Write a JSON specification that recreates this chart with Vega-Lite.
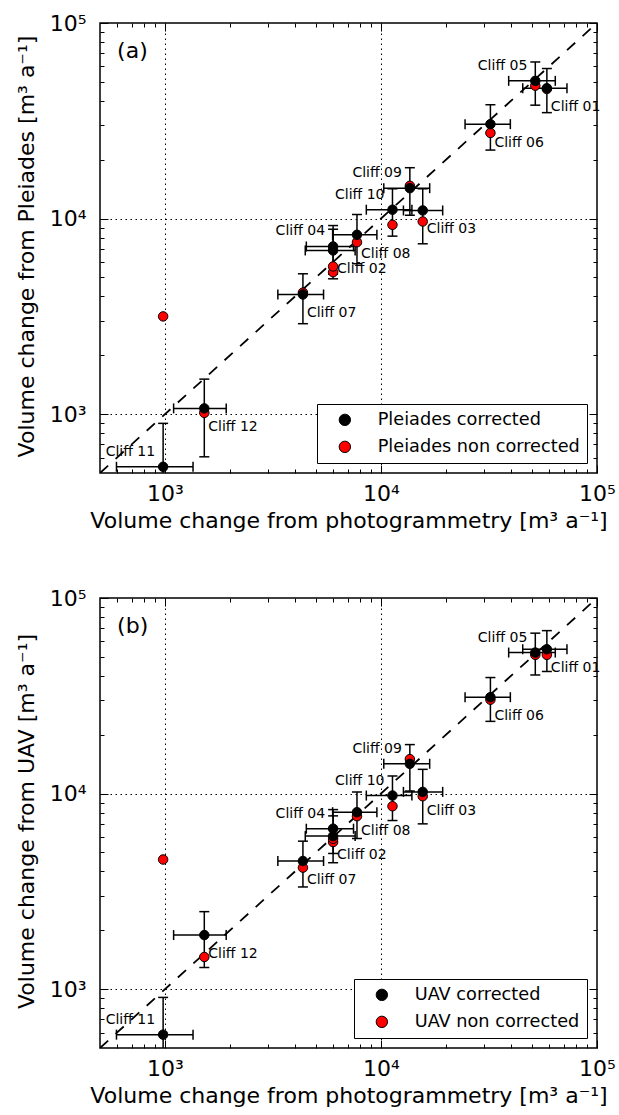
{
  "$schema": "https://vega.github.io/schema/vega-lite/v6.json",
  "padding": {"left": 14, "top": 11, "right": 0, "bottom": 0},
  "config": {
    "font": "DejaVu Sans",
    "view": {"stroke": "black", "strokeWidth": 1.5},
    "text": {"color": "black"}
  },
  "datasets": {
    "pa": [
      {"cliff": "Cliff 01", "x": 58600, "xlo": 45300, "xhi": 72600, "y": 46400, "ylo": 34800, "yhi": 58500, "ync": 46000},
      {"cliff": "Cliff 02", "x": 6000, "xlo": 4460, "xhi": 7590, "y": 6870, "ylo": 4920, "yhi": 8820, "ync": 5320},
      {"cliff": "Cliff 03", "x": 15600, "xlo": 12700, "xhi": 19300, "y": 11000, "ylo": 7430, "yhi": 14200, "ync": 9660},
      {"cliff": "Cliff 04", "x": 6000, "xlo": 4510, "xhi": 7460, "y": 7200, "ylo": 5190, "yhi": 9210, "ync": 5690},
      {"cliff": "Cliff 05", "x": 51800, "xlo": 39000, "xhi": 64100, "y": 50600, "ylo": 38000, "yhi": 63200, "ync": 47800},
      {"cliff": "Cliff 06", "x": 32100, "xlo": 24500, "xhi": 39700, "y": 30400, "ylo": 22400, "yhi": 38200, "ync": 27400},
      {"cliff": "Cliff 07", "x": 4350, "xlo": 3330, "xhi": 5420, "y": 4090, "ylo": 2900, "yhi": 5220, "ync": 4180},
      {"cliff": "Cliff 08", "x": 7740, "xlo": 5970, "xhi": 9570, "y": 8260, "ylo": 5870, "yhi": 10500, "ync": 7570},
      {"cliff": "Cliff 09", "x": 13600, "xlo": 10300, "xhi": 16800, "y": 14300, "ylo": 10400, "yhi": 18200, "ync": 14700},
      {"cliff": "Cliff 10", "x": 11300, "xlo": 8550, "xhi": 13900, "y": 11100, "ylo": 8130, "yhi": 14200, "ync": 9290},
      {"cliff": "Cliff 11", "x": 980, "xlo": 596, "xhi": 1348, "y": 538, "ylo": 179, "yhi": 897, "ync": 3160},
      {"cliff": "Cliff 12", "x": 1520, "xlo": 1096, "xhi": 1920, "y": 1070, "ylo": 605, "yhi": 1510, "ync": 1015}
    ],
    "pb": [
      {"cliff": "Cliff 01", "x": 58600, "xlo": 45300, "xhi": 72600, "y": 54700, "ylo": 42100, "yhi": 68100, "ync": 51200},
      {"cliff": "Cliff 02", "x": 6000, "xlo": 4460, "xhi": 7590, "y": 6060, "ylo": 4430, "yhi": 7690, "ync": 5650},
      {"cliff": "Cliff 03", "x": 15600, "xlo": 12700, "xhi": 19300, "y": 10200, "ylo": 7000, "yhi": 13300, "ync": 9690},
      {"cliff": "Cliff 04", "x": 6000, "xlo": 4510, "xhi": 7460, "y": 6610, "ylo": 4940, "yhi": 8280, "ync": 5870},
      {"cliff": "Cliff 05", "x": 51800, "xlo": 39000, "xhi": 64100, "y": 52600, "ylo": 40400, "yhi": 66100, "ync": 51200},
      {"cliff": "Cliff 06", "x": 32100, "xlo": 24500, "xhi": 39700, "y": 31100, "ylo": 23400, "yhi": 39200, "ync": 30200},
      {"cliff": "Cliff 07", "x": 4350, "xlo": 3330, "xhi": 5420, "y": 4520, "ylo": 3330, "yhi": 5710, "ync": 4180},
      {"cliff": "Cliff 08", "x": 7740, "xlo": 5970, "xhi": 9570, "y": 8030, "ylo": 5890, "yhi": 10200, "ync": 7660},
      {"cliff": "Cliff 09", "x": 13600, "xlo": 10300, "xhi": 16800, "y": 14200, "ylo": 10300, "yhi": 17800, "ync": 15000},
      {"cliff": "Cliff 10", "x": 11300, "xlo": 8550, "xhi": 13900, "y": 9770, "ylo": 7280, "yhi": 12300, "ync": 8610},
      {"cliff": "Cliff 11", "x": 980, "xlo": 596, "xhi": 1348, "y": 585, "ylo": 263, "yhi": 907, "ync": 4600},
      {"cliff": "Cliff 12", "x": 1520, "xlo": 1096, "xhi": 1920, "y": 1890, "ylo": 1290, "yhi": 2490, "ync": 1460}
    ],
    "diag": [{"v": 500}, {"v": 100000}],
    "anna": [{"x": 600, "y": 72000, "t": "(a)"}],
    "annb": [{"x": 600, "y": 72000, "t": "(b)"}]
  },
  "vconcat": [
    {
      "width": 497,
      "height": 450,
      "resolve": {"axis": {"x": "independent", "y": "independent"}},
      "layer": [
        {
          "data": {"name": "diag"},
          "mark": {"type": "line", "color": "black", "strokeDash": [11, 10], "strokeWidth": 1.8, "clip": true},
          "encoding": {
            "x": {"field": "v", "type": "quantitative", "scale": {"type": "log", "domain": [500, 100000], "nice": false},
              "axis": {"orient": "bottom", "values": [600,700,800,900,1000,2000,3000,4000,5000,6000,7000,8000,9000,10000,20000,30000,40000,50000,60000,70000,80000,90000,100000],
                "labelExpr": "datum.value == 1000 ? '10³' : datum.value == 10000 ? '10⁴' : datum.value == 100000 ? '10⁵' : ''",
                "labelFontSize": 22, "labelPadding": 18, "labelOverlap": false, "labelFlush": false, "labelBound": false, "labelColor": "black",
                "tickSize": {"condition": {"test": "datum.value == 1000 || datum.value == 10000 || datum.value == 100000", "value": -8}, "value": -4},
                "tickColor": "black", "tickWidth": 1, "domain": false,
                "grid": true, "gridColor": "black", "gridDash": [1.5, 3.5], "gridWidth": 1,
                "gridOpacity": {"condition": {"test": "datum.value == 1000 || datum.value == 10000", "value": 1}, "value": 0},
                "title": "Volume change from photogrammetry [m³  a⁻¹]", "titleFontSize": 22, "titleFontWeight": "normal", "titleColor": "black",
                "titleX": 248.5, "titleY": 54, "titleBaseline": "alphabetic", "titleAlign": "center"}},
            "y": {"field": "v", "type": "quantitative", "scale": {"type": "log", "domain": [500, 100000], "nice": false},
              "axis": {"orient": "left", "values": [600,700,800,900,1000,2000,3000,4000,5000,6000,7000,8000,9000,10000,20000,30000,40000,50000,60000,70000,80000,90000,100000],
                "labelExpr": "datum.value == 1000 ? '10³' : datum.value == 10000 ? '10⁴' : datum.value == 100000 ? '10⁵' : ''",
                "labelFontSize": 22, "labelPadding": 22, "labelOverlap": false, "labelFlush": false, "labelBound": false, "labelColor": "black",
                "tickSize": {"condition": {"test": "datum.value == 1000 || datum.value == 10000 || datum.value == 100000", "value": -8}, "value": -4},
                "tickColor": "black", "tickWidth": 1, "domain": false,
                "grid": true, "gridColor": "black", "gridDash": [1.5, 3.5], "gridWidth": 1,
                "gridOpacity": {"condition": {"test": "datum.value == 1000 || datum.value == 10000", "value": 1}, "value": 0},
                "title": "Volume change from Pleiades [m³  a⁻¹]", "titleFontSize": 22, "titleFontWeight": "normal", "titleColor": "black",
                "titleX": -66.7, "titleY": 223, "titleAngle": 270, "titleBaseline": "alphabetic", "titleAlign": "center"}}
          }
        },
        {
          "data": {"name": "pa"},
          "mark": {"type": "rule", "color": "black", "strokeWidth": 1.5, "clip": true},
          "encoding": {
            "x": {"field": "xlo", "type": "quantitative", "scale": {"type": "log", "domain": [500, 100000], "nice": false},
              "axis": {"orient": "top", "values": [600,700,800,900,1000,2000,3000,4000,5000,6000,7000,8000,9000,10000,20000,30000,40000,50000,60000,70000,80000,90000,100000],
                "labels": false, "grid": false, "domain": false, "title": null, "tickColor": "black", "tickWidth": 1,
                "tickSize": {"condition": {"test": "datum.value == 1000 || datum.value == 10000 || datum.value == 100000", "value": -8}, "value": -4}}},
            "x2": {"field": "xhi"},
            "y": {"field": "y", "type": "quantitative", "scale": {"type": "log", "domain": [500, 100000], "nice": false}, "axis": null}
          }
        },
        {
          "data": {"name": "pa"},
          "mark": {"type": "rule", "color": "black", "strokeWidth": 1.5, "clip": true},
          "encoding": {
            "x": {"field": "x", "type": "quantitative", "scale": {"type": "log", "domain": [500, 100000], "nice": false}, "axis": null},
            "y": {"field": "ylo", "type": "quantitative", "scale": {"type": "log", "domain": [500, 100000], "nice": false},
              "axis": {"orient": "right", "values": [600,700,800,900,1000,2000,3000,4000,5000,6000,7000,8000,9000,10000,20000,30000,40000,50000,60000,70000,80000,90000,100000],
                "labels": false, "grid": false, "domain": false, "title": null, "tickColor": "black", "tickWidth": 1,
                "tickSize": {"condition": {"test": "datum.value == 1000 || datum.value == 10000 || datum.value == 100000", "value": -8}, "value": -4}}},
            "y2": {"field": "yhi"}
          }
        },
        {
          "data": {"name": "pa"},
          "transform": [{"fold": ["xlo", "xhi"], "as": ["side", "xe"]}],
          "mark": {"type": "tick", "orient": "vertical", "color": "black", "size": 10, "thickness": 1.5, "opacity": 1, "clip": true},
          "encoding": {
            "x": {"field": "xe", "type": "quantitative", "scale": {"type": "log", "domain": [500, 100000], "nice": false}, "axis": null},
            "y": {"field": "y", "type": "quantitative", "scale": {"type": "log", "domain": [500, 100000], "nice": false}, "axis": null}
          }
        },
        {
          "data": {"name": "pa"},
          "transform": [{"fold": ["ylo", "yhi"], "as": ["side", "ye"]}],
          "mark": {"type": "tick", "orient": "horizontal", "color": "black", "size": 10, "thickness": 1.5, "opacity": 1, "clip": true},
          "encoding": {
            "x": {"field": "x", "type": "quantitative", "scale": {"type": "log", "domain": [500, 100000], "nice": false}, "axis": null},
            "y": {"field": "ye", "type": "quantitative", "scale": {"type": "log", "domain": [500, 100000], "nice": false}, "axis": null}
          }
        },
        {
          "data": {"name": "pa"},
          "mark": {"type": "point", "shape": "circle", "filled": true, "size": 90, "opacity": 1, "stroke": "black", "strokeWidth": 1},
          "encoding": {
            "x": {"field": "x", "type": "quantitative", "scale": {"type": "log", "domain": [500, 100000], "nice": false}, "axis": null},
            "y": {"field": "ync", "type": "quantitative", "scale": {"type": "log", "domain": [500, 100000], "nice": false}, "axis": null},
            "color": {"datum": "Pleiades non corrected", "type": "nominal",
              "scale": {"domain": ["Pleiades corrected", "Pleiades non corrected"], "range": ["black", "red"]},
              "legend": {"title": null, "orient": "bottom-right", "offset": 10, "fillColor": "white", "strokeColor": "black", "padding": 7,
                "symbolType": "circle", "symbolSize": 130, "symbolStrokeColor": "black", "symbolStrokeWidth": 1, "symbolOpacity": 1, "symbolOffset": 12,
                "labelOffset": 24, "labelFontSize": 17.7, "labelColor": "black", "labelLimit": 400, "rowPadding": 8}}
          }
        },
        {
          "data": {"name": "pa"},
          "mark": {"type": "point", "shape": "circle", "filled": true, "size": 90, "opacity": 1, "stroke": "black", "strokeWidth": 1},
          "encoding": {
            "x": {"field": "x", "type": "quantitative", "scale": {"type": "log", "domain": [500, 100000], "nice": false}, "axis": null},
            "y": {"field": "y", "type": "quantitative", "scale": {"type": "log", "domain": [500, 100000], "nice": false}, "axis": null},
            "color": {"datum": "Pleiades corrected", "type": "nominal",
              "scale": {"domain": ["Pleiades corrected", "Pleiades non corrected"], "range": ["black", "red"]},
              "legend": {"title": null, "orient": "bottom-right", "offset": 10, "fillColor": "white", "strokeColor": "black", "padding": 7,
                "symbolType": "circle", "symbolSize": 130, "symbolStrokeColor": "black", "symbolStrokeWidth": 1, "symbolOpacity": 1, "symbolOffset": 12,
                "labelOffset": 24, "labelFontSize": 17.7, "labelColor": "black", "labelLimit": 400, "rowPadding": 8}}
          }
        },
        {
          "data": {"name": "pa"},
          "transform": [{"filter": {"field": "cliff", "oneOf": ["Cliff 04", "Cliff 05", "Cliff 09", "Cliff 10", "Cliff 11"]}}],
          "mark": {"type": "text", "align": "right", "baseline": "middle", "dx": -8, "dy": -15, "fontSize": 14, "color": "black"},
          "encoding": {
            "x": {"field": "x", "type": "quantitative", "scale": {"type": "log", "domain": [500, 100000], "nice": false}, "axis": null},
            "y": {"field": "y", "type": "quantitative", "scale": {"type": "log", "domain": [500, 100000], "nice": false}, "axis": null},
            "text": {"field": "cliff"}
          }
        },
        {
          "data": {"name": "pa"},
          "transform": [{"filter": {"not": {"field": "cliff", "oneOf": ["Cliff 04", "Cliff 05", "Cliff 09", "Cliff 10", "Cliff 11"]}}}],
          "mark": {"type": "text", "align": "left", "baseline": "middle", "dx": 4, "dy": 19, "fontSize": 14, "color": "black"},
          "encoding": {
            "x": {"field": "x", "type": "quantitative", "scale": {"type": "log", "domain": [500, 100000], "nice": false}, "axis": null},
            "y": {"field": "y", "type": "quantitative", "scale": {"type": "log", "domain": [500, 100000], "nice": false}, "axis": null},
            "text": {"field": "cliff"}
          }
        },
        {
          "data": {"name": "anna"},
          "mark": {"type": "text", "align": "left", "baseline": "middle", "fontSize": 22, "color": "black"},
          "encoding": {
            "x": {"field": "x", "type": "quantitative", "scale": {"type": "log", "domain": [500, 100000], "nice": false}, "axis": null},
            "y": {"field": "y", "type": "quantitative", "scale": {"type": "log", "domain": [500, 100000], "nice": false}, "axis": null},
            "text": {"field": "t"}
          }
        }
      ]
    },
    {
      "width": 497,
      "height": 450,
      "resolve": {"axis": {"x": "independent", "y": "independent"}},
      "layer": [
        {
          "data": {"name": "diag"},
          "mark": {"type": "line", "color": "black", "strokeDash": [11, 10], "strokeWidth": 1.8, "clip": true},
          "encoding": {
            "x": {"field": "v", "type": "quantitative", "scale": {"type": "log", "domain": [500, 100000], "nice": false},
              "axis": {"orient": "bottom", "values": [600,700,800,900,1000,2000,3000,4000,5000,6000,7000,8000,9000,10000,20000,30000,40000,50000,60000,70000,80000,90000,100000],
                "labelExpr": "datum.value == 1000 ? '10³' : datum.value == 10000 ? '10⁴' : datum.value == 100000 ? '10⁵' : ''",
                "labelFontSize": 22, "labelPadding": 18, "labelOverlap": false, "labelFlush": false, "labelBound": false, "labelColor": "black",
                "tickSize": {"condition": {"test": "datum.value == 1000 || datum.value == 10000 || datum.value == 100000", "value": -8}, "value": -4},
                "tickColor": "black", "tickWidth": 1, "domain": false,
                "grid": true, "gridColor": "black", "gridDash": [1.5, 3.5], "gridWidth": 1,
                "gridOpacity": {"condition": {"test": "datum.value == 1000 || datum.value == 10000", "value": 1}, "value": 0},
                "title": "Volume change from photogrammetry [m³  a⁻¹]", "titleFontSize": 22, "titleFontWeight": "normal", "titleColor": "black",
                "titleX": 248.5, "titleY": 54, "titleBaseline": "alphabetic", "titleAlign": "center"}},
            "y": {"field": "v", "type": "quantitative", "scale": {"type": "log", "domain": [500, 100000], "nice": false},
              "axis": {"orient": "left", "values": [600,700,800,900,1000,2000,3000,4000,5000,6000,7000,8000,9000,10000,20000,30000,40000,50000,60000,70000,80000,90000,100000],
                "labelExpr": "datum.value == 1000 ? '10³' : datum.value == 10000 ? '10⁴' : datum.value == 100000 ? '10⁵' : ''",
                "labelFontSize": 22, "labelPadding": 22, "labelOverlap": false, "labelFlush": false, "labelBound": false, "labelColor": "black",
                "tickSize": {"condition": {"test": "datum.value == 1000 || datum.value == 10000 || datum.value == 100000", "value": -8}, "value": -4},
                "tickColor": "black", "tickWidth": 1, "domain": false,
                "grid": true, "gridColor": "black", "gridDash": [1.5, 3.5], "gridWidth": 1,
                "gridOpacity": {"condition": {"test": "datum.value == 1000 || datum.value == 10000", "value": 1}, "value": 0},
                "title": "Volume change from UAV [m³  a⁻¹]", "titleFontSize": 22, "titleFontWeight": "normal", "titleColor": "black",
                "titleX": -66.7, "titleY": 223, "titleAngle": 270, "titleBaseline": "alphabetic", "titleAlign": "center"}}
          }
        },
        {
          "data": {"name": "pb"},
          "mark": {"type": "rule", "color": "black", "strokeWidth": 1.5, "clip": true},
          "encoding": {
            "x": {"field": "xlo", "type": "quantitative", "scale": {"type": "log", "domain": [500, 100000], "nice": false},
              "axis": {"orient": "top", "values": [600,700,800,900,1000,2000,3000,4000,5000,6000,7000,8000,9000,10000,20000,30000,40000,50000,60000,70000,80000,90000,100000],
                "labels": false, "grid": false, "domain": false, "title": null, "tickColor": "black", "tickWidth": 1,
                "tickSize": {"condition": {"test": "datum.value == 1000 || datum.value == 10000 || datum.value == 100000", "value": -8}, "value": -4}}},
            "x2": {"field": "xhi"},
            "y": {"field": "y", "type": "quantitative", "scale": {"type": "log", "domain": [500, 100000], "nice": false}, "axis": null}
          }
        },
        {
          "data": {"name": "pb"},
          "mark": {"type": "rule", "color": "black", "strokeWidth": 1.5, "clip": true},
          "encoding": {
            "x": {"field": "x", "type": "quantitative", "scale": {"type": "log", "domain": [500, 100000], "nice": false}, "axis": null},
            "y": {"field": "ylo", "type": "quantitative", "scale": {"type": "log", "domain": [500, 100000], "nice": false},
              "axis": {"orient": "right", "values": [600,700,800,900,1000,2000,3000,4000,5000,6000,7000,8000,9000,10000,20000,30000,40000,50000,60000,70000,80000,90000,100000],
                "labels": false, "grid": false, "domain": false, "title": null, "tickColor": "black", "tickWidth": 1,
                "tickSize": {"condition": {"test": "datum.value == 1000 || datum.value == 10000 || datum.value == 100000", "value": -8}, "value": -4}}},
            "y2": {"field": "yhi"}
          }
        },
        {
          "data": {"name": "pb"},
          "transform": [{"fold": ["xlo", "xhi"], "as": ["side", "xe"]}],
          "mark": {"type": "tick", "orient": "vertical", "color": "black", "size": 10, "thickness": 1.5, "opacity": 1, "clip": true},
          "encoding": {
            "x": {"field": "xe", "type": "quantitative", "scale": {"type": "log", "domain": [500, 100000], "nice": false}, "axis": null},
            "y": {"field": "y", "type": "quantitative", "scale": {"type": "log", "domain": [500, 100000], "nice": false}, "axis": null}
          }
        },
        {
          "data": {"name": "pb"},
          "transform": [{"fold": ["ylo", "yhi"], "as": ["side", "ye"]}],
          "mark": {"type": "tick", "orient": "horizontal", "color": "black", "size": 10, "thickness": 1.5, "opacity": 1, "clip": true},
          "encoding": {
            "x": {"field": "x", "type": "quantitative", "scale": {"type": "log", "domain": [500, 100000], "nice": false}, "axis": null},
            "y": {"field": "ye", "type": "quantitative", "scale": {"type": "log", "domain": [500, 100000], "nice": false}, "axis": null}
          }
        },
        {
          "data": {"name": "pb"},
          "mark": {"type": "point", "shape": "circle", "filled": true, "size": 90, "opacity": 1, "stroke": "black", "strokeWidth": 1},
          "encoding": {
            "x": {"field": "x", "type": "quantitative", "scale": {"type": "log", "domain": [500, 100000], "nice": false}, "axis": null},
            "y": {"field": "ync", "type": "quantitative", "scale": {"type": "log", "domain": [500, 100000], "nice": false}, "axis": null},
            "color": {"datum": "UAV non corrected", "type": "nominal",
              "scale": {"domain": ["UAV corrected", "UAV non corrected"], "range": ["black", "red"]},
              "legend": {"title": null, "orient": "bottom-right", "offset": 10, "fillColor": "white", "strokeColor": "black", "padding": 7,
                "symbolType": "circle", "symbolSize": 130, "symbolStrokeColor": "black", "symbolStrokeWidth": 1, "symbolOpacity": 1, "symbolOffset": 12,
                "labelOffset": 24, "labelFontSize": 17.7, "labelColor": "black", "labelLimit": 400, "rowPadding": 8}}
          }
        },
        {
          "data": {"name": "pb"},
          "mark": {"type": "point", "shape": "circle", "filled": true, "size": 90, "opacity": 1, "stroke": "black", "strokeWidth": 1},
          "encoding": {
            "x": {"field": "x", "type": "quantitative", "scale": {"type": "log", "domain": [500, 100000], "nice": false}, "axis": null},
            "y": {"field": "y", "type": "quantitative", "scale": {"type": "log", "domain": [500, 100000], "nice": false}, "axis": null},
            "color": {"datum": "UAV corrected", "type": "nominal",
              "scale": {"domain": ["UAV corrected", "UAV non corrected"], "range": ["black", "red"]},
              "legend": {"title": null, "orient": "bottom-right", "offset": 10, "fillColor": "white", "strokeColor": "black", "padding": 7,
                "symbolType": "circle", "symbolSize": 130, "symbolStrokeColor": "black", "symbolStrokeWidth": 1, "symbolOpacity": 1, "symbolOffset": 12,
                "labelOffset": 24, "labelFontSize": 17.7, "labelColor": "black", "labelLimit": 400, "rowPadding": 8}}
          }
        },
        {
          "data": {"name": "pb"},
          "transform": [{"filter": {"field": "cliff", "oneOf": ["Cliff 04", "Cliff 05", "Cliff 09", "Cliff 10", "Cliff 11"]}}],
          "mark": {"type": "text", "align": "right", "baseline": "middle", "dx": -8, "dy": -15, "fontSize": 14, "color": "black"},
          "encoding": {
            "x": {"field": "x", "type": "quantitative", "scale": {"type": "log", "domain": [500, 100000], "nice": false}, "axis": null},
            "y": {"field": "y", "type": "quantitative", "scale": {"type": "log", "domain": [500, 100000], "nice": false}, "axis": null},
            "text": {"field": "cliff"}
          }
        },
        {
          "data": {"name": "pb"},
          "transform": [{"filter": {"not": {"field": "cliff", "oneOf": ["Cliff 04", "Cliff 05", "Cliff 09", "Cliff 10", "Cliff 11"]}}}],
          "mark": {"type": "text", "align": "left", "baseline": "middle", "dx": 4, "dy": 19, "fontSize": 14, "color": "black"},
          "encoding": {
            "x": {"field": "x", "type": "quantitative", "scale": {"type": "log", "domain": [500, 100000], "nice": false}, "axis": null},
            "y": {"field": "y", "type": "quantitative", "scale": {"type": "log", "domain": [500, 100000], "nice": false}, "axis": null},
            "text": {"field": "cliff"}
          }
        },
        {
          "data": {"name": "annb"},
          "mark": {"type": "text", "align": "left", "baseline": "middle", "fontSize": 22, "color": "black"},
          "encoding": {
            "x": {"field": "x", "type": "quantitative", "scale": {"type": "log", "domain": [500, 100000], "nice": false}, "axis": null},
            "y": {"field": "y", "type": "quantitative", "scale": {"type": "log", "domain": [500, 100000], "nice": false}, "axis": null},
            "text": {"field": "t"}
          }
        }
      ]
    }
  ],
  "spacing": 125,
  "bounds": "flush",
  "resolve": {"scale": {"color": "independent"}}
}
